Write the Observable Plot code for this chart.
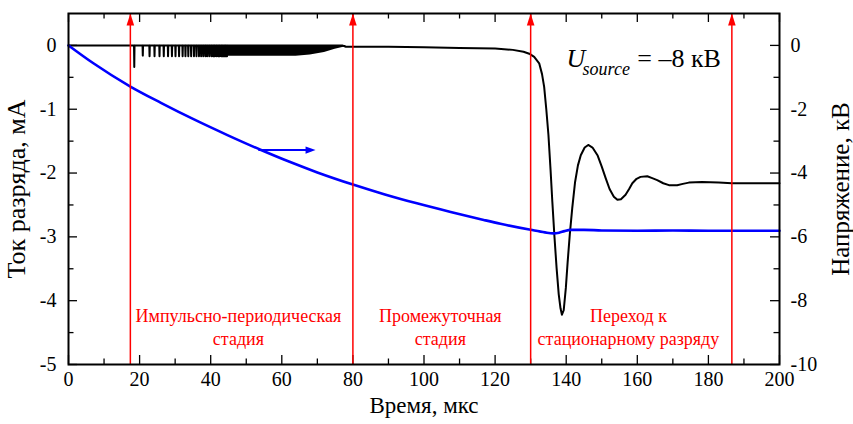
<!DOCTYPE html>
<html><head><meta charset="utf-8">
<script src="https://cdn.jsdelivr.net/npm/d3@7"></script>
<script src="https://cdn.jsdelivr.net/npm/@observablehq/plot@0.6"></script>
<style>
body{margin:0;background:#fff;}
#chart svg, #chart svg text{font-family:"Liberation Serif","Times New Roman",Times,"DejaVu Serif","Noto Serif",serif !important;}
</style></head><body><div id="chart"></div>
<script>
// ---- data ----
// discharge current pulses (impulse-periodic stage): time, µs / depth, mA
const pulseTimes = [18.5, 20.9, 22.8, 24.2, 25.6, 26.8, 28.0, 29.1, 30.1, 31.1, 32.1, 32.9, 33.7, 34.5, 35.3,
  36.0, 36.7, 37.3, 37.9, 38.5, 39.0, 39.6, 40.2, 40.7, 41.1, 41.6, 42.1, 42.5, 43.0, 43.4, 43.8, 44.2, 44.6];
const pulseDepths = [-0.34, -0.16, -0.17, -0.17, -0.17, -0.17, -0.17, -0.17, -0.17, -0.17, -0.17, -0.17, -0.17, -0.17, -0.17,
  -0.17, -0.17, -0.17, -0.17, -0.17, -0.17, -0.17, -0.17, -0.17, -0.17, -0.17, -0.17, -0.17, -0.17, -0.17, -0.17, -0.17, -0.17];
// dense pulse band envelope (lower edge)
const bandTimes = [44.6, 55, 64, 68, 72, 75, 78];
const bandDepths = [-0.17, -0.17, -0.17, -0.15, -0.11, -0.06, -0.02];
// current after the pulse stage: time µs / mA
const currentTimes = [78, 90, 100, 110, 120, 125, 128, 129.6, 131, 132.4, 133.2, 133.8, 134.4, 135, 135.6, 136.1, 136.7,
  137.3, 137.9, 138.4, 138.8, 139.3, 139.9, 140.4, 141, 141.7, 142.5, 143.3, 144.1, 145.2, 146.2, 147.4, 148.8, 150,
  151.1, 152.2, 153.4, 154.4, 155.4, 156.7, 157.7, 158.6, 159.8, 160.9, 162.8, 164.2, 165.6, 167.3, 168.9, 171.2,
  172.8, 174.5, 178.2, 182.9, 186.6, 200];
const currentValues = [-0.02, -0.02, -0.03, -0.04, -0.05, -0.07, -0.1, -0.13, -0.18, -0.28, -0.45, -0.65, -1.0, -1.4, -1.95, -2.45, -3.0,
  -3.49, -3.9, -4.12, -4.22, -4.15, -3.8, -3.4, -2.97, -2.55, -2.14, -1.88, -1.72, -1.6, -1.56, -1.6, -1.72, -1.9,
  -2.08, -2.25, -2.37, -2.42, -2.41, -2.34, -2.25, -2.16, -2.09, -2.06, -2.05, -2.08, -2.11, -2.16, -2.19, -2.19,
  -2.17, -2.15, -2.14, -2.15, -2.16, -2.16];
// voltage: time µs / kV
const voltageTimes = [0, 7, 17.4, 26, 35.3, 44.7, 54, 62, 70, 80, 89, 98, 107.5, 116.8, 121.5, 130, 134,
  136.4, 138, 139.5, 141.2, 145, 150, 160, 170, 180, 190, 200];
const voltageValues = [0, -0.56, -1.29, -1.80, -2.32, -2.81, -3.27, -3.64, -3.98, -4.36, -4.67, -4.95, -5.22, -5.47, -5.59, -5.78, -5.86,
  -5.89, -5.87, -5.82, -5.78, -5.78, -5.80, -5.81, -5.80, -5.81, -5.81, -5.81];
// stage boundaries (red arrows) and labels
const stageTimes = [17.4, 80, 130, 186.6];
const stageLabels = ["Импульсно-периодическая\nстадия", "Промежуточная\nстадия", "Переход к\nстационарному разряду"];
const stageLabelTimes = [47.8, 104.6, 157.5];
const stageLabelLevel = -4.4; // mA
// blue arrow pointing to the right axis
const arrowFrom = 53.4, arrowTo = 69.5, arrowVoltage = -3.28;
// ticks
const xTicks = [0, 20, 40, 60, 80, 100, 120, 140, 160, 180, 200];
const xMinorTicks = [10, 30, 50, 70, 90, 110, 130, 150, 170, 190];
const currentTicks = [-5, -4, -3, -2, -1, 0];
const currentMinorTicks = [-4.5, -3.5, -2.5, -1.5, -0.5];
const voltageTicks = [-10, -8, -6, -4, -2, 0];
const voltageMinorTicks = [-9, -7, -5, -3, -1];

// ---- build tables ----
const currentLine = [{t: 0, i: 0}];
pulseTimes.forEach((t, k) => {
  currentLine.push({t: t - 0.07, i: 0}, {t, i: pulseDepths[k]}, {t: t + 0.07, i: 0});
});
currentLine.push({t: 45, i: 0}, {t: 77, i: 0});
currentTimes.forEach((t, k) => currentLine.push({t, i: currentValues[k]}));
const band = bandTimes.map((t, k) => ({t, lo: bandDepths[k]}));
const voltage = voltageTimes.map((t, k) => ({t, u: voltageValues[k]}));
const labels = stageLabels.map((s, k) => ({s, t: stageLabelTimes[k]}));

const W = 853, H = 424, mL = 68, mR = 74, mT = 13, mB = 60;
const pw = W - mL - mR, ph = H - mT - mB;
const red = "#ff0000", blue = "#0000ff";
const kv = u => u / 2; // right axis (kV) mapped onto the current scale

const triUp = {draw(ctx) { ctx.moveTo(0, 0); ctx.lineTo(3.8, 12); ctx.lineTo(-3.8, 12); ctx.closePath(); }};
const triRight = {draw(ctx) { ctx.moveTo(0, 0); ctx.lineTo(-10, 3.6); ctx.lineTo(-10, -3.6); ctx.closePath(); }};

const chart = Plot.plot({
  width: W, height: H,
  marginLeft: mL, marginRight: mR, marginTop: mT, marginBottom: mB,
  x: {domain: [0, 200], axis: null},
  y: {domain: [-5, 0.5], axis: null},
  style: {background: "#fff", color: "#000"},
  marks: [
    // inward ticks
    Plot.ruleY(currentTicks, {y: d => d, insetRight: pw - 9, stroke: "#000", strokeWidth: 1.3}),
    Plot.ruleY(currentMinorTicks, {y: d => d, insetRight: pw - 5.5, stroke: "#000", strokeWidth: 1.3}),
    Plot.ruleY(voltageTicks, {y: d => kv(d), insetLeft: pw - 9, stroke: "#000", strokeWidth: 1.3}),
    Plot.ruleY(voltageMinorTicks, {y: d => kv(d), insetLeft: pw - 5.5, stroke: "#000", strokeWidth: 1.3}),
    Plot.ruleX(xTicks, {x: d => d, insetTop: ph - 9, stroke: "#000", strokeWidth: 1.3}),
    Plot.ruleX(xMinorTicks, {x: d => d, insetTop: ph - 5.5, stroke: "#000", strokeWidth: 1.3}),
    Plot.ruleX(xTicks, {x: d => d, insetBottom: ph - 9, stroke: "#000", strokeWidth: 1.3}),
    Plot.ruleX(xMinorTicks, {x: d => d, insetBottom: ph - 5.5, stroke: "#000", strokeWidth: 1.3}),
    // tick labels
    Plot.text(currentTicks, {y: d => d, text: d => String(d), frameAnchor: "left", dx: -12, textAnchor: "end", fontSize: 20}),
    Plot.text(voltageTicks, {y: d => kv(d), text: d => String(d), frameAnchor: "right", dx: 11, textAnchor: "start", fontSize: 20}),
    Plot.text(xTicks, {x: d => d, text: d => String(d), frameAnchor: "bottom", dy: 21, fontSize: 20}),
    // axis titles
    Plot.text(["Время, мкс"], {text: d => d, frameAnchor: "bottom", dy: 48, fontSize: 23, textAnchor: "middle"}),
    Plot.text(["Ток разряда, мА"], {text: d => d, frameAnchor: "left", dx: -52, rotate: -90, fontSize: 26, textAnchor: "middle"}),
    Plot.text(["Напряжение, кВ"], {text: d => d, frameAnchor: "right", dx: 61, rotate: -90, fontSize: 25, textAnchor: "middle"}),
    // data
    Plot.areaY(band, {x: "t", y1: 0, y2: "lo", fill: "#000", curve: "linear"}),
    Plot.line(currentLine, {x: "t", y: "i", stroke: "#000", strokeWidth: 2, curve: "linear"}),
    Plot.line(voltage, {x: "t", y: d => kv(d.u), stroke: blue, strokeWidth: 2.6, curve: "monotone-x"}),
    // blue arrow
    Plot.link([0], {x1: arrowFrom, x2: arrowTo - 2.3, y1: kv(arrowVoltage), y2: kv(arrowVoltage), stroke: blue, strokeWidth: 2}),
    Plot.dot([0], {x: arrowTo, y: kv(arrowVoltage), symbol: triRight, fill: blue, stroke: null}),
    // annotation
    Plot.text(["U"], {x: 140.1, y: -0.34, text: d => d, textAnchor: "start", lineAnchor: "bottom", fontSize: 26, fontStyle: "italic"}),
    Plot.text(["source"], {x: 144.6, y: -0.47, text: d => d, textAnchor: "start", lineAnchor: "bottom", fontSize: 18, fontStyle: "italic"}),
    Plot.text(["= –8 кВ"], {x: 160.0, y: -0.34, text: d => d, textAnchor: "start", lineAnchor: "bottom", fontSize: 26}),
    // stage labels
    Plot.text(labels, {x: "t", y: stageLabelLevel, text: "s", fill: red, fontSize: 18, lineHeight: 1.3}),
    // red stage arrows
    Plot.ruleX(stageTimes, {x: d => d, stroke: red, strokeWidth: 1.5}),
    Plot.dot(stageTimes, {x: d => d, frameAnchor: "top", symbol: triUp, fill: red, stroke: null}),
    Plot.frame({stroke: "#000", strokeWidth: 2})
  ]
});
document.getElementById("chart").append(chart);
</script>
</body></html>
